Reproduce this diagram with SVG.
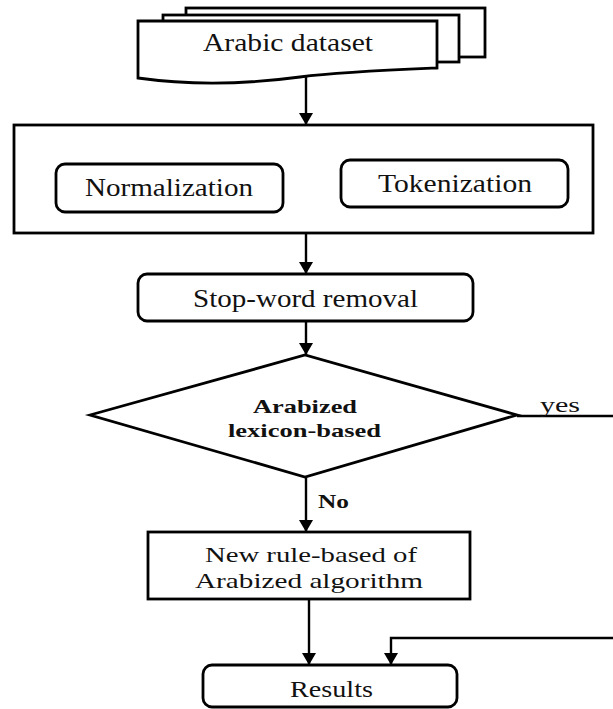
<svg xmlns="http://www.w3.org/2000/svg" width="613" height="709" viewBox="0 0 613 709">
<defs>
<style>
.box{fill:#fff;stroke:#000;stroke-width:2.8}
.conn{fill:none;stroke:#000;stroke-width:2.4}
.t{font-family:"Liberation Serif","Times New Roman",serif;fill:#111;text-anchor:middle}
.b{font-weight:bold}
</style>
<marker id="ah" viewBox="0 0 12 14" refX="12" refY="7" markerWidth="12" markerHeight="14" markerUnits="userSpaceOnUse" orient="auto">
<path d="M0,0 L12,7 L0,14 Z" fill="#000"/>
</marker>
</defs>
<rect width="613" height="709" fill="#fff"/>

<g id="dataset">
<rect class="box" x="186" y="8" width="299" height="49"/>
<rect class="box" x="163" y="15" width="296" height="47"/>
<path class="box" d="M138,21 H437 V68 C390,70 340,72 300,77 C255,83 195,86 138,78 Z"/>
<text class="t" x="288" y="51" font-size="26" textLength="170" lengthAdjust="spacingAndGlyphs">Arabic dataset</text>
</g>

<g id="preprocessing">
<rect class="box" x="14" y="125" width="579" height="108" stroke-width="3"/>
</g>

<g id="normalization">
<rect class="box" x="56" y="164" width="227" height="48" rx="9"/>
<text class="t" x="169" y="196" font-size="25" textLength="168" lengthAdjust="spacingAndGlyphs">Normalization</text>
</g>

<g id="tokenization">
<rect class="box" x="341" y="160" width="227" height="47" rx="9"/>
<text class="t" x="455" y="192" font-size="25" textLength="154" lengthAdjust="spacingAndGlyphs">Tokenization</text>
</g>

<g id="stopword">
<rect class="box" x="138" y="274" width="335" height="47" rx="9"/>
<text class="t" x="305.5" y="307" font-size="25" textLength="225" lengthAdjust="spacingAndGlyphs">Stop-word removal</text>
</g>

<g id="decision">
<polygon class="box" points="90,415 305,355 517,415 305,477"/>
<text class="t b" x="305" y="413" font-size="19" textLength="104" lengthAdjust="spacingAndGlyphs">Arabized</text>
<text class="t b" x="304.5" y="437" font-size="19" textLength="153" lengthAdjust="spacingAndGlyphs">lexicon-based</text>
</g>

<g id="newrule">
<rect class="box" x="148" y="532" width="322" height="67"/>
<text class="t" x="311" y="562" font-size="22" textLength="212" lengthAdjust="spacingAndGlyphs">New rule-based of</text>
<text class="t" x="309" y="588" font-size="22" textLength="228" lengthAdjust="spacingAndGlyphs">Arabized algorithm</text>
</g>

<g id="results">
<rect class="box" x="203" y="665" width="254" height="42" rx="9"/>
<text class="t" x="331.5" y="697" font-size="23" textLength="83" lengthAdjust="spacingAndGlyphs">Results</text>
</g>

<g id="connectors">
<path class="conn" d="M306,77 V125" marker-end="url(#ah)"/>
<path class="conn" d="M306,233 V274" marker-end="url(#ah)"/>
<path class="conn" d="M306,321 V355" marker-end="url(#ah)"/>
<path class="conn" d="M306,477 V532" marker-end="url(#ah)"/>
<path class="conn" d="M309,599 V665" marker-end="url(#ah)"/>
<path class="conn" d="M517,416 H613"/>
<path class="conn" d="M613,638 H391 V665" marker-end="url(#ah)"/>
<text class="t" x="560" y="412" font-size="22" textLength="40" lengthAdjust="spacingAndGlyphs">yes</text>
<text class="t b" x="333.5" y="508" font-size="19" textLength="31" lengthAdjust="spacingAndGlyphs">No</text>
</g>
</svg>
